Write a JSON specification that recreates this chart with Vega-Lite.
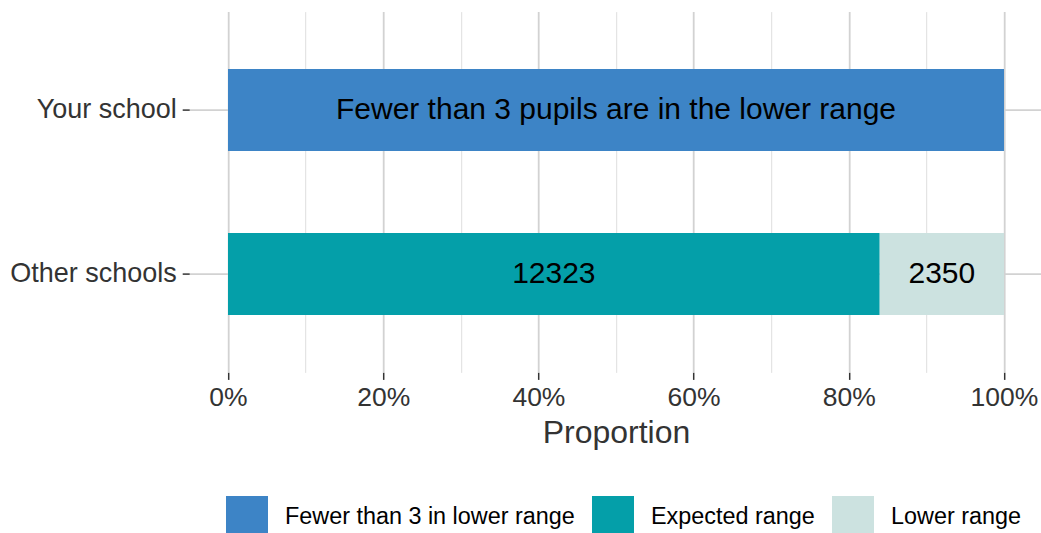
{
  "$schema": "https://vega.github.io/schema/vega-lite/v6.json",
  "autosize": {"type": "none"},
  "padding": {"left": 189.2, "top": 11.6, "right": 0, "bottom": 160.6},
  "width": 853.6,
  "height": 360.8,
  "background": "white",
  "config": {
    "font": "Liberation Sans",
    "view": {"stroke": null}
  },
  "data": {
    "values": [
      {"school": "Your school", "category": "Fewer than 3 in lower range", "count": 1, "label": "Fewer than 3 pupils are in the lower range"},
      {"school": "Other schools", "category": "Expected range", "count": 12323, "label": "12323"},
      {"school": "Other schools", "category": "Lower range", "count": 2350, "label": "2350"}
    ]
  },
  "transform": [
    {"stack": "count", "groupby": ["school"], "sort": [{"field": "category", "order": "ascending"}], "offset": "normalize", "as": ["x0", "x1"]},
    {"calculate": "(datum.x0 + datum.x1) / 2", "as": "xmid"}
  ],
  "encoding": {
    "y": {
      "field": "school",
      "type": "nominal",
      "sort": ["Your school", "Other schools"],
      "scale": {"domain": ["Your school", "Other schools"], "paddingInner": 0.5, "paddingOuter": 0.35},
      "axis": {
        "title": null,
        "domain": false,
        "labelFontSize": 27,
        "labelColor": "#333333",
        "labelPadding": 6,
        "tickSize": 7,
        "tickColor": "#333333",
        "tickWidth": 1.5,
        "grid": true,
        "gridColor": "#d2d2d2",
        "gridWidth": 1.8
      }
    }
  },
  "layer": [
    {
      "mark": {"type": "bar"},
      "encoding": {
        "x": {
          "field": "x0",
          "type": "quantitative",
          "scale": {"domain": [-0.05, 1.05], "nice": false, "zero": false},
          "axis": {
            "title": "Proportion",
            "titleFontSize": 32,
            "titleFontWeight": "normal",
            "titleColor": "#333333",
            "titlePadding": 7,
            "domain": false,
            "values": [0, 0.1, 0.2, 0.3, 0.4, 0.5, 0.6, 0.7, 0.8, 0.9, 1],
            "labelExpr": "round(datum.value*10) % 2 == 1 ? '' : round(datum.value*100) + '%'",
            "labelFontSize": 26.5,
            "labelColor": "#333333",
            "labelPadding": 5,
            "tickSize": 7,
            "tickColor": "#333333",
            "tickWidth": 1.5,
            "tickOpacity": {"condition": {"test": "round(datum.value*10) % 2 == 1", "value": 0}, "value": 1},
            "gridColor": {"condition": {"test": "round(datum.value*10) % 2 == 1", "value": "#dedede"}, "value": "#d2d2d2"},
            "gridWidth": {"condition": {"test": "round(datum.value*10) % 2 == 1", "value": 1}, "value": 1.8}
          }
        },
        "x2": {"field": "x1"},
        "color": {
          "field": "category",
          "type": "nominal",
          "scale": {
            "domain": ["Fewer than 3 in lower range", "Expected range", "Lower range"],
            "range": ["#3d84c6", "#049fa9", "#cce2e0"]
          },
          "legend": {
            "title": null,
            "orient": "none",
            "direction": "horizontal",
            "legendX": 36.8,
            "legendY": 484.4,
            "padding": 0,
            "symbolType": "square",
            "symbolSize": 1764,
            "symbolStrokeWidth": 0,
            "symbolOpacity": 1,
            "labelFontSize": 23.4,
            "labelColor": "#000000",
            "labelOffset": 17,
            "labelBaseline": "middle",
            "labelLimit": 400,
            "columnPadding": 17
          }
        }
      }
    },
    {
      "mark": {"type": "text", "fontSize": 30, "color": "#000000", "baseline": "middle", "align": "center"},
      "encoding": {
        "x": {"field": "xmid", "type": "quantitative"},
        "text": {"field": "label"}
      }
    }
  ]
}
